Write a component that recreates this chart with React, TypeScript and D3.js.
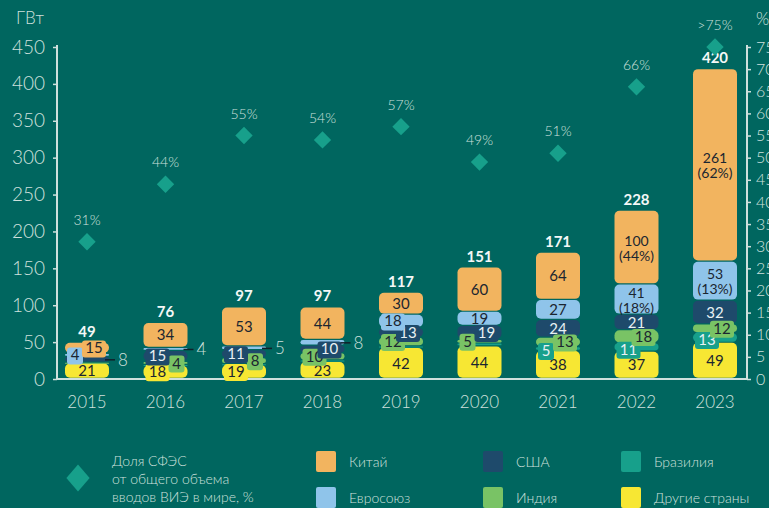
import React, { useEffect, useRef } from 'react';
import * as d3 from 'd3';

const years = ['2015', '2016', '2017', '2018', '2019', '2020', '2021', '2022', '2023'];
const other = [21, 18, 19, 23, 42, 44, 38, 37, 49];
const brazil = [0, 1, 1, 2, 2, 4, 5, 11, 13];
const india = [1, 4, 8, 10, 12, 5, 13, 18, 12];
const usa = [8, 15, 11, 10, 13, 19, 24, 21, 32];
const eu = [4, 4, 5, 8, 18, 19, 27, 41, 53];
const china = [15, 34, 53, 44, 30, 60, 64, 100, 261];
const totals = [49, 76, 97, 97, 117, 151, 171, 228, 420];
const share = [31, 44, 55, 54, 57, 49, 51, 66, 75];
const shareLabels = ['31%', '44%', '55%', '54%', '57%', '49%', '51%', '66%', '>75%'];
const euNotes = ['', '', '', '', '', '', '', '(18%)', '(13%)'];
const chinaNotes = ['', '', '', '', '', '', '', '(44%)', '(62%)'];
const leftTicks = [0, 50, 100, 150, 200, 250, 300, 350, 400, 450];
const rightTicks = [0, 5, 10, 15, 20, 25, 30, 35, 40, 45, 50, 55, 60, 65, 70, 75];

const seriesKeys = ['other', 'brazil', 'india', 'usa', 'eu', 'china'];
const seriesValues: Record<string, number[]> = { other, brazil, india, usa, eu, china };
const seriesNames: Record<string, string> = {
  china: 'Китай', usa: 'США', brazil: 'Бразилия',
  eu: 'Евросоюз', india: 'Индия', other: 'Другие страны',
};
const colors: Record<string, string> = {
  other: '#f7e733', brazil: '#17a08b', india: '#79c365',
  usa: '#1e4a6b', eu: '#8fc4ea', china: '#f2b45f',
};
const lightText: Record<string, boolean> = { usa: true, brazil: true };

// where each small value label goes: l / r = badge at bar side, o = outside with a dash, n = none
const placement: Record<string, string> = {
  '2015:china': 'r', '2015:eu': 'l', '2015:usa': 'o', '2015:india': 'n',
  '2016:india': 'r', '2016:usa': 'l', '2016:eu': 'o', '2016:brazil': 'n', '2016:other': 'l',
  '2017:india': 'r', '2017:usa': 'l', '2017:eu': 'o', '2017:brazil': 'n', '2017:other': 'l',
  '2018:india': 'l', '2018:usa': 'r', '2018:eu': 'o', '2018:brazil': 'n',
  '2019:india': 'l', '2019:usa': 'r', '2019:eu': 'l', '2019:brazil': 'n',
  '2020:india': 'l', '2020:usa': 'r', '2020:brazil': 'n',
  '2021:brazil': 'l', '2021:india': 'r',
  '2022:brazil': 'l', '2022:india': 'r',
  '2023:brazil': 'l', '2023:india': 'r',
};

const W = 769;
const H = 508;
const BG = '#00665f';
const AXIS = '#cfe0dd';
const FONT = 'Lato, "Open Sans", sans-serif';

const Chart = () => {
  const svgRef = useRef<SVGSVGElement>(null);

  useEffect(() => {
    const svg = d3.select(svgRef.current);
    svg.selectAll('*').remove();

    const y = d3.scaleLinear().domain([0, 450]).range([379, 47]);
    const yR = d3.scaleLinear().domain([0, 75]).range([379, 47]);
    const x = d3.scalePoint<string>().domain(years).range([87, 715]);
    const barW = 44;

    svg.append('rect').attr('width', W).attr('height', H).attr('fill', BG);

    // left axis
    const gl = svg.append('g').attr('transform', 'translate(57,0)')
      .call(d3.axisLeft(y).tickValues(leftTicks).tickSize(4).tickSizeOuter(0).tickPadding(8));
    gl.select('.domain').remove();
    gl.selectAll('line').attr('stroke', AXIS).attr('stroke-width', 1.5);
    gl.selectAll('text').attr('fill', AXIS).attr('font-size', 19).attr('font-weight', 300)
      .attr('font-family', FONT);
    svg.append('line').attr('x1', 57).attr('x2', 57).attr('y1', 45).attr('y2', 380)
      .attr('stroke', AXIS).attr('stroke-width', 2);
    svg.append('text').attr('x', 30).attr('y', 24).attr('text-anchor', 'middle')
      .attr('fill', AXIS).attr('font-size', 17).attr('font-weight', 300)
      .attr('font-family', FONT).text('ГВт');

    // right axis
    const gr = svg.append('g').attr('transform', 'translate(747,0)')
      .call(d3.axisRight(yR).tickValues(rightTicks).tickSize(4).tickSizeOuter(0).tickPadding(5));
    gr.select('.domain').remove();
    gr.selectAll('line').attr('stroke', AXIS).attr('stroke-width', 1.5);
    gr.selectAll('text').attr('fill', AXIS).attr('font-size', 16).attr('font-weight', 300)
      .attr('font-family', FONT);
    svg.append('line').attr('x1', 747).attr('x2', 747).attr('y1', 45).attr('y2', 380)
      .attr('stroke', AXIS).attr('stroke-width', 2);
    svg.append('text').attr('x', 756).attr('y', 25)
      .attr('fill', AXIS).attr('font-size', 17).attr('font-weight', 300)
      .attr('font-family', FONT).text('%');

    // baseline
    svg.append('line').attr('x1', 56).attr('x2', 748).attr('y1', 379).attr('y2', 379)
      .attr('stroke', AXIS).attr('stroke-width', 2);

    // year labels
    svg.selectAll('.year').data(years).join('text')
      .attr('x', d => x(d)!).attr('y', 408).attr('text-anchor', 'middle')
      .attr('fill', AXIS).attr('font-size', 17).attr('font-weight', 300)
      .attr('font-family', FONT).text(d => d);

    // stacked bars
    const table = years.map((yr, i) => {
      const row: Record<string, any> = { year: yr };
      seriesKeys.forEach(k => { row[k] = seriesValues[k][i]; });
      return row;
    });
    const stacked = d3.stack<any>().keys(seriesKeys)(table);

    const segs: { key: string; year: string; i: number; v: number; y0: number; y1: number }[] = [];

    stacked.forEach(layer => {
      const key = layer.key;
      layer.forEach((d, i) => {
        const yr = years[i];
        const v = d[1] - d[0];
        if (v <= 0) return;
        const top = y(d[1]);
        const bot = y(d[0]);
        const h = Math.max(bot - top - 1.2, 1);
        svg.append('rect')
          .attr('x', x(yr)! - barW / 2).attr('y', top).attr('width', barW).attr('height', h)
          .attr('rx', Math.min(5, h / 2)).attr('fill', colors[key]);
        segs.push({ key, year: yr, i, v, y0: bot, y1: top });
      });
    });

    segs.forEach(s => {
      const p = placement[`${s.year}:${s.key}`] || 'c';
      if (p === 'n') return;
      const cx = x(s.year)!;
      const cy = (s.y0 + s.y1) / 2;
      const txtColor = lightText[s.key] ? '#e8f1f4' : '#1b2630';
      const label = String(s.v);
      if (p === 'c') {
        const note = s.key === 'eu' ? euNotes[s.i] : s.key === 'china' ? chinaNotes[s.i] : '';
        const t = svg.append('text').attr('x', cx).attr('text-anchor', 'middle')
          .attr('fill', txtColor).attr('font-size', note ? 14 : 15).attr('font-family', FONT);
        if (note) {
          t.attr('y', cy - 2).text(label);
          svg.append('text').attr('x', cx).attr('y', cy + 13).attr('text-anchor', 'middle')
            .attr('fill', txtColor).attr('font-size', 14).attr('font-family', FONT).text(note);
        } else {
          t.attr('y', cy + 5).text(label);
        }
      } else if (p === 'l' || p === 'r') {
        const bw = label.length * 8 + 8;
        const bx = p === 'l' ? cx - barW / 2 + 2 : cx + barW / 2 - 3 - bw;
        const by = s.key === 'brazil' ? cy - 6 : cy - 8;
        svg.append('rect').attr('x', bx).attr('y', by).attr('width', bw).attr('height', 17)
          .attr('rx', 3).attr('fill', colors[s.key]);
        svg.append('text').attr('x', bx + bw / 2).attr('y', by + 13).attr('text-anchor', 'middle')
          .attr('fill', txtColor).attr('font-size', 15).attr('font-family', FONT).text(label);
      } else if (p === 'o') {
        const xr = cx + barW / 2;
        svg.append('line').attr('x1', xr - 4).attr('x2', xr + 6).attr('y1', cy).attr('y2', cy)
          .attr('stroke', '#10202a').attr('stroke-width', 1.5);
        svg.append('text').attr('x', xr + 9).attr('y', cy + 6)
          .attr('fill', AXIS).attr('font-size', 17).attr('font-weight', 300)
          .attr('font-family', FONT).text(label);
      }
    });

    // totals
    svg.selectAll('.total').data(totals).join('text')
      .attr('x', (d, i) => x(years[i])!).attr('y', d => y(d) - 6).attr('text-anchor', 'middle')
      .attr('fill', '#f4f8f7').attr('font-size', 15).attr('font-weight', 700)
      .attr('font-family', FONT).text(d => d);

    // share diamonds
    const sym = d3.symbol().type(d3.symbolSquare).size(150);
    svg.selectAll('.share').data(share).join('path')
      .attr('d', sym()!)
      .attr('transform', (d, i) => `translate(${x(years[i])},${yR(d)}) rotate(45)`)
      .attr('fill', '#17a08b');
    svg.selectAll('.shareLbl').data(shareLabels).join('text')
      .attr('x', (d, i) => x(years[i])!).attr('y', (d, i) => yR(share[i]) - 17)
      .attr('text-anchor', 'middle').attr('fill', AXIS).attr('font-size', 14)
      .attr('font-weight', 300).attr('font-family', FONT).text(d => d);

    // legend
    const leg = svg.append('g');
    leg.append('path').attr('d', d3.symbol().type(d3.symbolSquare).size(300)()!)
      .attr('transform', 'translate(78,478) scale(0.95,1.1) rotate(45)').attr('fill', '#17a08b');
    ['Доля СФЭС', 'от общего объема', 'вводов ВИЭ в мире, %'].forEach((t, i) => {
      leg.append('text').attr('x', 112).attr('y', 466 + i * 18).attr('fill', AXIS)
        .attr('font-size', 14).attr('font-weight', 300).attr('font-family', FONT).text(t);
    });
    const legOrder = ['china', 'usa', 'brazil', 'eu', 'india', 'other'];
    const legX = [316, 483, 621];
    legOrder.forEach((k, i) => {
      const lx = legX[i % 3];
      const ly = i < 3 ? 451 : 487;
      leg.append('rect').attr('x', lx).attr('y', ly).attr('width', 20).attr('height', 21)
        .attr('rx', 2).attr('fill', colors[k]);
      leg.append('text').attr('x', lx + 33).attr('y', ly + 16).attr('fill', AXIS)
        .attr('font-size', 14).attr('font-weight', 300).attr('font-family', FONT)
        .text(seriesNames[k]);
    });
  }, []);

  return <svg ref={svgRef} width={W} height={H} style={{ display: 'block' }}></svg>;
};

export default function App() {
  return (
    <div style={{ position: 'absolute', left: 0, top: 0, width: W, height: H, overflow: 'hidden' }}>
      <Chart />
    </div>
  );
}
